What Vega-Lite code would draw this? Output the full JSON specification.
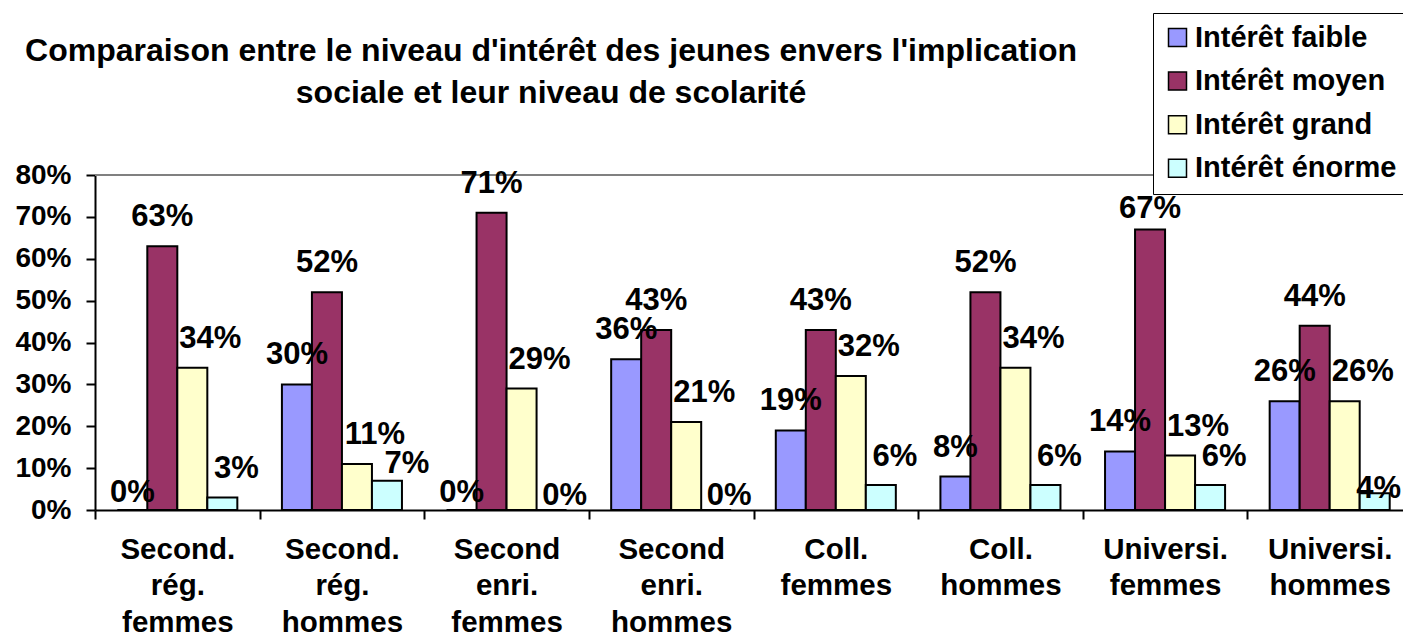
{
  "$schema": "https://vega.github.io/schema/vega-lite/v6.json",
  "width": 1308,
  "height": 335,
  "autosize": {"type": "none"},
  "padding": {"left": 95, "top": 175, "right": 0, "bottom": 132},
  "background": "white",
  "title": {
    "text": ["Comparaison entre  le  niveau d'intérêt des jeunes envers l'implication", "sociale et leur niveau de scolarité"],
    "font": "Liberation Sans",
    "fontSize": 32,
    "fontWeight": "bold",
    "color": "black",
    "anchor": "middle",
    "frame": "group",
    "dx": -198,
    "dy": 97,
    "lineHeight": 42,
    "offset": 0,
    "baseline": "top"
  },
  "config": {
    "view": {"stroke": null},
    "font": "Liberation Sans"
  },
  "data": {
    "values": [
      {"cat": "Second. rég. femmes", "serie": "Intérêt faible", "v": 0},
      {"cat": "Second. rég. femmes", "serie": "Intérêt moyen", "v": 0.63},
      {"cat": "Second. rég. femmes", "serie": "Intérêt grand", "v": 0.34},
      {"cat": "Second. rég. femmes", "serie": "Intérêt énorme", "v": 0.03},
      {"cat": "Second. rég. hommes", "serie": "Intérêt faible", "v": 0.30},
      {"cat": "Second. rég. hommes", "serie": "Intérêt moyen", "v": 0.52},
      {"cat": "Second. rég. hommes", "serie": "Intérêt grand", "v": 0.11},
      {"cat": "Second. rég. hommes", "serie": "Intérêt énorme", "v": 0.07},
      {"cat": "Second enri. femmes", "serie": "Intérêt faible", "v": 0},
      {"cat": "Second enri. femmes", "serie": "Intérêt moyen", "v": 0.71},
      {"cat": "Second enri. femmes", "serie": "Intérêt grand", "v": 0.29},
      {"cat": "Second enri. femmes", "serie": "Intérêt énorme", "v": 0},
      {"cat": "Second enri. hommes", "serie": "Intérêt faible", "v": 0.36},
      {"cat": "Second enri. hommes", "serie": "Intérêt moyen", "v": 0.43},
      {"cat": "Second enri. hommes", "serie": "Intérêt grand", "v": 0.21},
      {"cat": "Second enri. hommes", "serie": "Intérêt énorme", "v": 0},
      {"cat": "Coll. femmes", "serie": "Intérêt faible", "v": 0.19},
      {"cat": "Coll. femmes", "serie": "Intérêt moyen", "v": 0.43},
      {"cat": "Coll. femmes", "serie": "Intérêt grand", "v": 0.32},
      {"cat": "Coll. femmes", "serie": "Intérêt énorme", "v": 0.06},
      {"cat": "Coll. hommes", "serie": "Intérêt faible", "v": 0.08},
      {"cat": "Coll. hommes", "serie": "Intérêt moyen", "v": 0.52},
      {"cat": "Coll. hommes", "serie": "Intérêt grand", "v": 0.34},
      {"cat": "Coll. hommes", "serie": "Intérêt énorme", "v": 0.06},
      {"cat": "Universi. femmes", "serie": "Intérêt faible", "v": 0.14},
      {"cat": "Universi. femmes", "serie": "Intérêt moyen", "v": 0.67},
      {"cat": "Universi. femmes", "serie": "Intérêt grand", "v": 0.13},
      {"cat": "Universi. femmes", "serie": "Intérêt énorme", "v": 0.06},
      {"cat": "Universi. hommes", "serie": "Intérêt faible", "v": 0.26},
      {"cat": "Universi. hommes", "serie": "Intérêt moyen", "v": 0.44},
      {"cat": "Universi. hommes", "serie": "Intérêt grand", "v": 0.26},
      {"cat": "Universi. hommes", "serie": "Intérêt énorme", "v": 0.04}
    ]
  },
  "layer": [
    {
      "data": {"values": [{}]},
      "mark": {"type": "rule", "color": "#808080", "strokeWidth": 2},
      "encoding": {"y": {"datum": 0.8, "type": "quantitative"}}
    },
    {
      "mark": {"type": "bar", "stroke": "black", "strokeWidth": 2},
      "encoding": {
        "x": {
          "field": "cat", "type": "nominal",
          "scale": {"domain": ["Second. rég. femmes", "Second. rég. hommes", "Second enri. femmes", "Second enri. hommes", "Coll. femmes", "Coll. hommes", "Universi. femmes", "Universi. hommes"], "range": [0, 1317], "paddingInner": 0, "paddingOuter": 0},
          "axis": {
            "title": null, "labelAngle": 0, "labelExpr": "split(datum.label, ' ')",
            "labelFont": "Liberation Sans", "labelFontSize": 29.5, "labelFontWeight": "bold", "labelColor": "black",
            "labelLineHeight": 36.5, "labelBaseline": "top", "labelPadding": 16, "labelOverlap": false, "labelLimit": 0,
            "tickSize": 9, "tickWidth": 2, "tickColor": "black", "domainColor": "black", "domainWidth": 2, "tickBand": "extent"
          }
        },
        "xOffset": {
          "field": "serie", "type": "nominal",
          "scale": {"domain": ["Intérêt faible", "Intérêt moyen", "Intérêt grand", "Intérêt énorme"], "paddingInner": 0, "paddingOuter": 0.743}
        },
        "y": {
          "field": "v", "type": "quantitative",
          "scale": {"domain": [0, 0.8], "nice": false},
          "axis": {
            "title": null, "values": [0, 0.1, 0.2, 0.3, 0.4, 0.5, 0.6, 0.7, 0.8], "format": ".0%",
            "labelFont": "Liberation Sans", "labelFontSize": 28, "labelFontWeight": "bold", "labelColor": "black",
            "labelPadding": 15, "tickSize": 9, "tickWidth": 2, "tickColor": "black", "domainColor": "black", "domainWidth": 2, "grid": false
          }
        },
        "color": {
          "field": "serie", "type": "nominal",
          "scale": {"domain": ["Intérêt faible", "Intérêt moyen", "Intérêt grand", "Intérêt énorme"], "range": ["#9999FF", "#993366", "#FFFFCC", "#CCFFFF"]},
          "legend": {
            "orient": "none", "legendX": 1058, "legendY": -162, "title": null,
            "fillColor": "white", "strokeColor": "black", "padding": 10,
            "symbolType": "square", "symbolSize": 324, "symbolStrokeColor": "black", "symbolStrokeWidth": 1.5, "symbolOpacity": 1,
            "labelFont": "Liberation Sans", "labelFontSize": 29, "labelFontWeight": "bold", "labelColor": "black",
            "labelOffset": 3, "rowPadding": 13.6, "labelLimit": 0
          }
        }
      }
    },
    {
      "transform": [{"filter": "(datum.serie == 'Intérêt faible' || datum.serie == 'Intérêt moyen') && datum.v > 0 && !(datum.cat == 'Universi. femmes' && datum.serie == 'Intérêt moyen')"}],
      "mark": {"type": "text", "baseline": "alphabetic", "dy": -20, "fontSize": 31, "fontWeight": "bold", "font": "Liberation Sans", "color": "black"},
      "encoding": {
        "x": {"field": "cat", "type": "nominal"},
        "xOffset": {"field": "serie", "type": "nominal"},
        "y": {"field": "v", "type": "quantitative"},
        "text": {"field": "v", "type": "quantitative", "format": ".0%"}
      }
    },
    {
      "transform": [{"filter": "datum.cat == 'Universi. femmes' && datum.serie == 'Intérêt moyen'"}],
      "mark": {"type": "text", "baseline": "alphabetic", "dy": -11, "fontSize": 31, "fontWeight": "bold", "font": "Liberation Sans", "color": "black"},
      "encoding": {
        "x": {"field": "cat", "type": "nominal"},
        "xOffset": {"field": "serie", "type": "nominal"},
        "y": {"field": "v", "type": "quantitative"},
        "text": {"field": "v", "type": "quantitative", "format": ".0%"}
      }
    },
    {
      "transform": [{"filter": "datum.serie == 'Intérêt grand' && datum.v > 0"}],
      "mark": {"type": "text", "baseline": "alphabetic", "dy": -20, "dx": 18, "fontSize": 31, "fontWeight": "bold", "font": "Liberation Sans", "color": "black"},
      "encoding": {
        "x": {"field": "cat", "type": "nominal"},
        "xOffset": {"field": "serie", "type": "nominal"},
        "y": {"field": "v", "type": "quantitative"},
        "text": {"field": "v", "type": "quantitative", "format": ".0%"}
      }
    },
    {
      "transform": [{"filter": "datum.serie == 'Intérêt énorme' && datum.v > 0 && datum.cat != 'Second. rég. hommes' && datum.cat != 'Universi. hommes'"}],
      "mark": {"type": "text", "baseline": "alphabetic", "dy": -19, "dx": 14, "fontSize": 31, "fontWeight": "bold", "font": "Liberation Sans", "color": "black"},
      "encoding": {
        "x": {"field": "cat", "type": "nominal"},
        "xOffset": {"field": "serie", "type": "nominal"},
        "y": {"field": "v", "type": "quantitative"},
        "text": {"field": "v", "type": "quantitative", "format": ".0%"}
      }
    },
    {
      "transform": [{"filter": "datum.serie == 'Intérêt énorme' && datum.cat == 'Second. rég. hommes'"}],
      "mark": {"type": "text", "baseline": "alphabetic", "dy": -8, "dx": 20, "fontSize": 31, "fontWeight": "bold", "font": "Liberation Sans", "color": "black"},
      "encoding": {
        "x": {"field": "cat", "type": "nominal"},
        "xOffset": {"field": "serie", "type": "nominal"},
        "y": {"field": "v", "type": "quantitative"},
        "text": {"field": "v", "type": "quantitative", "format": ".0%"}
      }
    },
    {
      "transform": [{"filter": "datum.serie == 'Intérêt énorme' && datum.cat == 'Universi. hommes'"}],
      "mark": {"type": "text", "baseline": "alphabetic", "dy": 5, "dx": 4, "fontSize": 31, "fontWeight": "bold", "font": "Liberation Sans", "color": "black"},
      "encoding": {
        "x": {"field": "cat", "type": "nominal"},
        "xOffset": {"field": "serie", "type": "nominal"},
        "y": {"field": "v", "type": "quantitative"},
        "text": {"field": "v", "type": "quantitative", "format": ".0%"}
      }
    },
    {
      "transform": [{"filter": "datum.serie == 'Intérêt faible' && datum.v == 0"}],
      "mark": {"type": "text", "baseline": "alphabetic", "dy": -8, "fontSize": 31, "fontWeight": "bold", "font": "Liberation Sans", "color": "black"},
      "encoding": {
        "x": {"field": "cat", "type": "nominal"},
        "xOffset": {"field": "serie", "type": "nominal"},
        "y": {"field": "v", "type": "quantitative"},
        "text": {"field": "v", "type": "quantitative", "format": ".0%"}
      }
    },
    {
      "transform": [{"filter": "datum.serie == 'Intérêt énorme' && datum.v == 0"}],
      "mark": {"type": "text", "baseline": "alphabetic", "dy": -5, "dx": 13, "fontSize": 31, "fontWeight": "bold", "font": "Liberation Sans", "color": "black"},
      "encoding": {
        "x": {"field": "cat", "type": "nominal"},
        "xOffset": {"field": "serie", "type": "nominal"},
        "y": {"field": "v", "type": "quantitative"},
        "text": {"field": "v", "type": "quantitative", "format": ".0%"}
      }
    }
  ]
}
